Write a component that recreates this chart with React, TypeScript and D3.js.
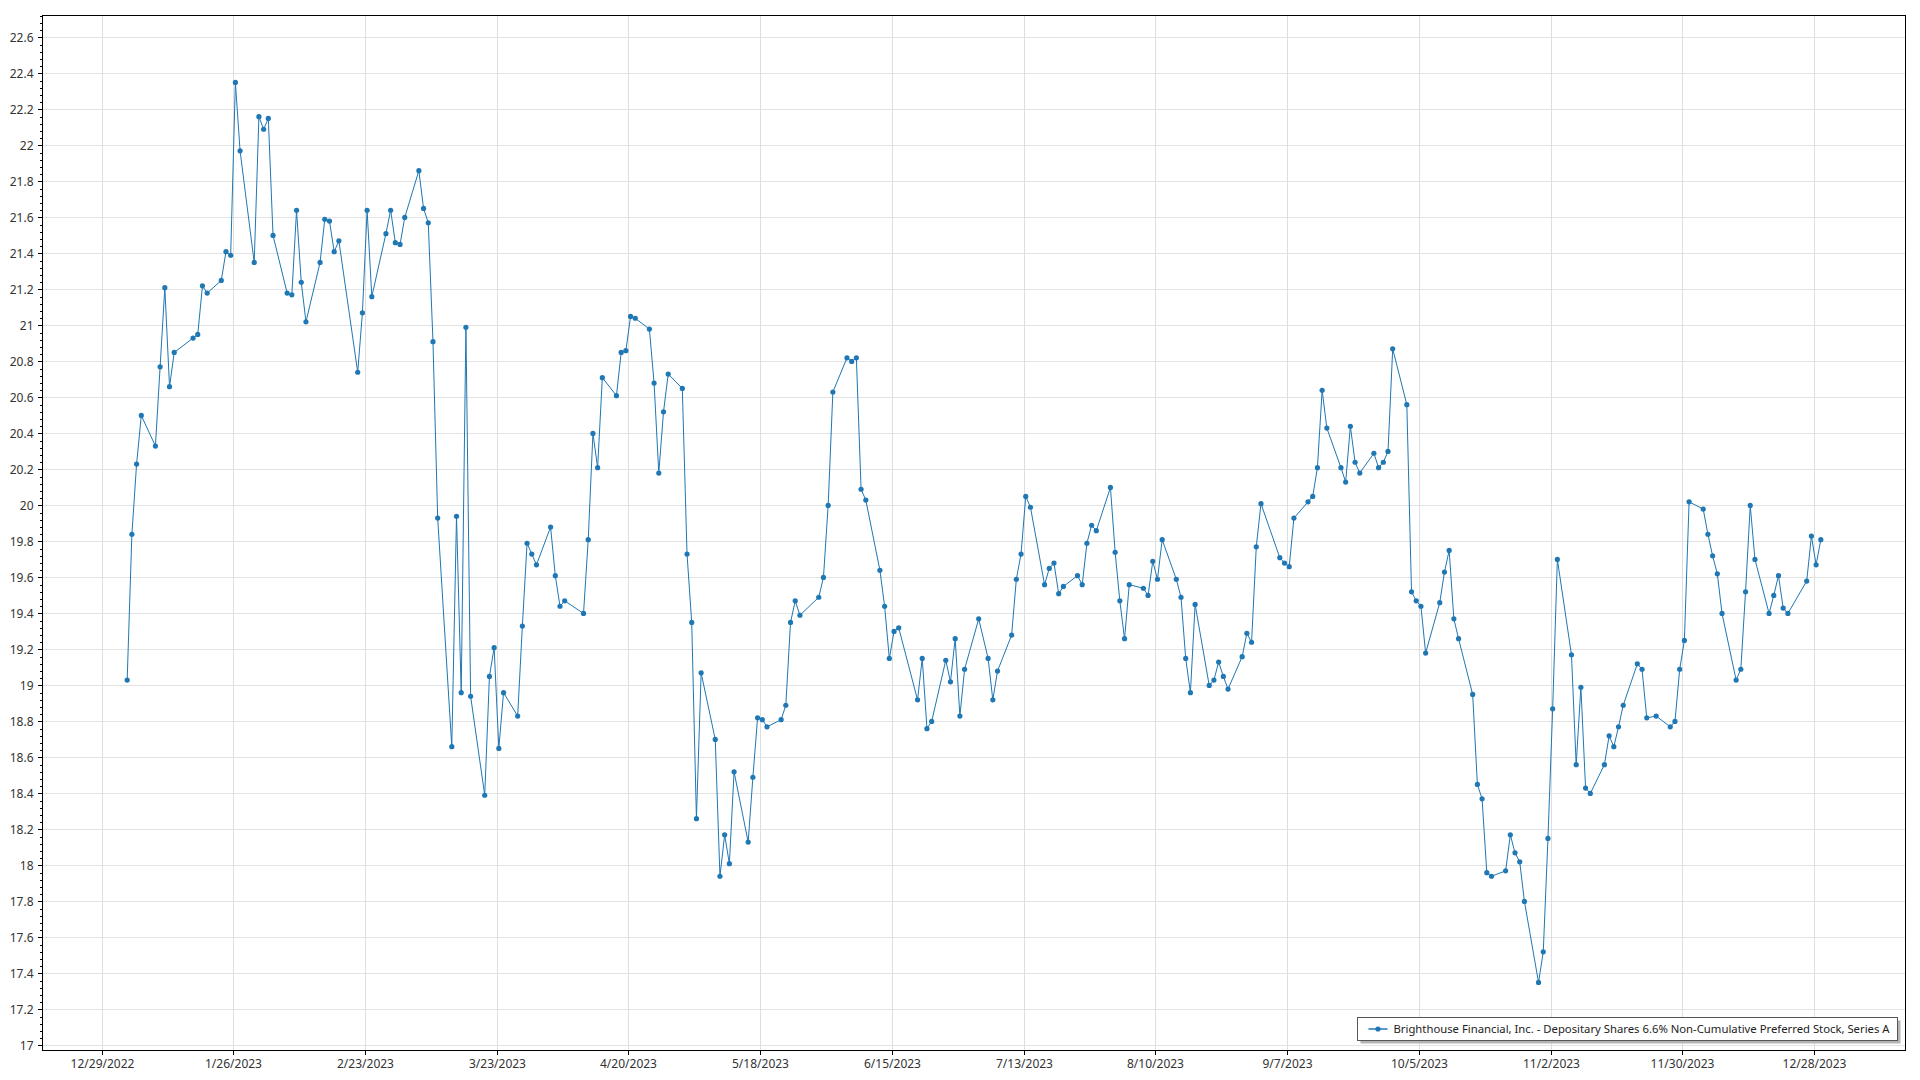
import { useEffect, useRef } from "react";
import * as d3 from "d3";

const SERIES_NAME =
  "Brighthouse Financial, Inc. - Depositary Shares 6.6% Non-Cumulative Preferred Stock, Series A";

// trading days of 2023
const TRADE_DATES = [
  "2023-01-03", "2023-01-04", "2023-01-05", "2023-01-06", "2023-01-09", "2023-01-10", "2023-01-11", "2023-01-12", "2023-01-13",
  "2023-01-17", "2023-01-18", "2023-01-19", "2023-01-20", "2023-01-23", "2023-01-24", "2023-01-25", "2023-01-26", "2023-01-27",
  "2023-01-30", "2023-01-31", "2023-02-01", "2023-02-02", "2023-02-03", "2023-02-06", "2023-02-07", "2023-02-08", "2023-02-09",
  "2023-02-10", "2023-02-13", "2023-02-14", "2023-02-15", "2023-02-16", "2023-02-17", "2023-02-21", "2023-02-22", "2023-02-23",
  "2023-02-24", "2023-02-27", "2023-02-28", "2023-03-01", "2023-03-02", "2023-03-03", "2023-03-06", "2023-03-07", "2023-03-08",
  "2023-03-09", "2023-03-10", "2023-03-13", "2023-03-14", "2023-03-15", "2023-03-16", "2023-03-17", "2023-03-20", "2023-03-21",
  "2023-03-22", "2023-03-23", "2023-03-24", "2023-03-27", "2023-03-28", "2023-03-29", "2023-03-30", "2023-03-31", "2023-04-03",
  "2023-04-04", "2023-04-05", "2023-04-06", "2023-04-10", "2023-04-11", "2023-04-12", "2023-04-13", "2023-04-14", "2023-04-17",
  "2023-04-18", "2023-04-19", "2023-04-20", "2023-04-21", "2023-04-24", "2023-04-25", "2023-04-26", "2023-04-27", "2023-04-28",
  "2023-05-01", "2023-05-02", "2023-05-03", "2023-05-04", "2023-05-05", "2023-05-08", "2023-05-09", "2023-05-10", "2023-05-11",
  "2023-05-12", "2023-05-15", "2023-05-16", "2023-05-17", "2023-05-18", "2023-05-19", "2023-05-22", "2023-05-23", "2023-05-24",
  "2023-05-25", "2023-05-26", "2023-05-30", "2023-05-31", "2023-06-01", "2023-06-02", "2023-06-05", "2023-06-06", "2023-06-07",
  "2023-06-08", "2023-06-09", "2023-06-12", "2023-06-13", "2023-06-14", "2023-06-15", "2023-06-16", "2023-06-20", "2023-06-21",
  "2023-06-22", "2023-06-23", "2023-06-26", "2023-06-27", "2023-06-28", "2023-06-29", "2023-06-30", "2023-07-03", "2023-07-05",
  "2023-07-06", "2023-07-07", "2023-07-10", "2023-07-11", "2023-07-12", "2023-07-13", "2023-07-14", "2023-07-17", "2023-07-18",
  "2023-07-19", "2023-07-20", "2023-07-21", "2023-07-24", "2023-07-25", "2023-07-26", "2023-07-27", "2023-07-28", "2023-07-31",
  "2023-08-01", "2023-08-02", "2023-08-03", "2023-08-04", "2023-08-07", "2023-08-08", "2023-08-09", "2023-08-10", "2023-08-11",
  "2023-08-14", "2023-08-15", "2023-08-16", "2023-08-17", "2023-08-18", "2023-08-21", "2023-08-22", "2023-08-23", "2023-08-24",
  "2023-08-25", "2023-08-28", "2023-08-29", "2023-08-30", "2023-08-31", "2023-09-01", "2023-09-05", "2023-09-06", "2023-09-07",
  "2023-09-08", "2023-09-11", "2023-09-12", "2023-09-13", "2023-09-14", "2023-09-15", "2023-09-18", "2023-09-19", "2023-09-20",
  "2023-09-21", "2023-09-22", "2023-09-25", "2023-09-26", "2023-09-27", "2023-09-28", "2023-09-29", "2023-10-02", "2023-10-03",
  "2023-10-04", "2023-10-05", "2023-10-06", "2023-10-09", "2023-10-10", "2023-10-11", "2023-10-12", "2023-10-13", "2023-10-16",
  "2023-10-17", "2023-10-18", "2023-10-19", "2023-10-20", "2023-10-23", "2023-10-24", "2023-10-25", "2023-10-26", "2023-10-27",
  "2023-10-30", "2023-10-31", "2023-11-01", "2023-11-02", "2023-11-03", "2023-11-06", "2023-11-07", "2023-11-08", "2023-11-09",
  "2023-11-10", "2023-11-13", "2023-11-14", "2023-11-15", "2023-11-16", "2023-11-17", "2023-11-20", "2023-11-21", "2023-11-22",
  "2023-11-24", "2023-11-27", "2023-11-28", "2023-11-29", "2023-11-30", "2023-12-01", "2023-12-04", "2023-12-05", "2023-12-06",
  "2023-12-07", "2023-12-08", "2023-12-11", "2023-12-12", "2023-12-13", "2023-12-14", "2023-12-15", "2023-12-18", "2023-12-19",
  "2023-12-20", "2023-12-21", "2023-12-22", "2023-12-26", "2023-12-27", "2023-12-28", "2023-12-29",
];

const CLOSE_PRICES = [
  19.03, 19.84, 20.23, 20.5, 20.33, 20.77, 21.21, 20.66, 20.85,
  20.93, 20.95, 21.22, 21.18, 21.25, 21.41, 21.39, 22.35, 21.97,
  21.35, 22.16, 22.09, 22.15, 21.5, 21.18, 21.17, 21.64, 21.24,
  21.02, 21.35, 21.59, 21.58, 21.41, 21.47, 20.74, 21.07, 21.64,
  21.16, 21.51, 21.64, 21.46, 21.45, 21.6, 21.86, 21.65, 21.57,
  20.91, 19.93, 18.66, 19.94, 18.96, 20.99, 18.94, 18.39, 19.05,
  19.21, 18.65, 18.96, 18.83, 19.33, 19.79, 19.73, 19.67, 19.88,
  19.61, 19.44, 19.47, 19.4, 19.81, 20.4, 20.21, 20.71, 20.61,
  20.85, 20.86, 21.05, 21.04, 20.98, 20.68, 20.18, 20.52, 20.73,
  20.65, 19.73, 19.35, 18.26, 19.07, 18.7, 17.94, 18.17, 18.01,
  18.52, 18.13, 18.49, 18.82, 18.81, 18.77, 18.81, 18.89, 19.35,
  19.47, 19.39, 19.49, 19.6, 20.0, 20.63, 20.82, 20.8, 20.82,
  20.09, 20.03, 19.64, 19.44, 19.15, 19.3, 19.32, 18.92, 19.15,
  18.76, 18.8, 19.14, 19.02, 19.26, 18.83, 19.09, 19.37, 19.15,
  18.92, 19.08, 19.28, 19.59, 19.73, 20.05, 19.99, 19.56, 19.65,
  19.68, 19.51, 19.55, 19.61, 19.56, 19.79, 19.89, 19.86, 20.1,
  19.74, 19.47, 19.26, 19.56, 19.54, 19.5, 19.69, 19.59, 19.81,
  19.59, 19.49, 19.15, 18.96, 19.45, 19.0, 19.03, 19.13, 19.05,
  18.98, 19.16, 19.29, 19.24, 19.77, 20.01, 19.71, 19.68, 19.66,
  19.93, 20.02, 20.05, 20.21, 20.64, 20.43, 20.21, 20.13, 20.44,
  20.24, 20.18, 20.29, 20.21, 20.24, 20.3, 20.87, 20.56, 19.52,
  19.47, 19.44, 19.18, 19.46, 19.63, 19.75, 19.37, 19.26, 18.95,
  18.45, 18.37, 17.96, 17.94, 17.97, 18.17, 18.07, 18.02, 17.8,
  17.35, 17.52, 18.15, 18.87, 19.7, 19.17, 18.56, 18.99, 18.43,
  18.4, 18.56, 18.72, 18.66, 18.77, 18.89, 19.12, 19.09, 18.82,
  18.83, 18.77, 18.8, 19.09, 19.25, 20.02, 19.98, 19.84, 19.72,
  19.62, 19.4, 19.03, 19.09, 19.52, 20.0, 19.7, 19.4, 19.5,
  19.61, 19.43, 19.4, 19.58, 19.83, 19.67, 19.81,
];

// x axis ticks every four weeks
const X_TICKS = [
  "2022-12-29", "2023-01-26", "2023-02-23", "2023-03-23", "2023-04-20", "2023-05-18", "2023-06-15",
  "2023-07-13", "2023-08-10", "2023-09-07", "2023-10-05", "2023-11-02", "2023-11-30", "2023-12-28",
];
const Y_DOMAIN = [16.972, 22.722];
const Y_TICK_STEP = 0.2;
const Y_MINOR_STEP = 0.04;

const LINE_COLOR = "#1f77b4";
const FONT = "'Segoe UI', 'Noto Sans', sans-serif";

export default function App() {
  const svgRef = useRef<SVGSVGElement>(null);

  useEffect(() => {
    if (!svgRef.current) return;
    const svg = d3.select(svgRef.current);
    svg.selectAll("*").remove();

    const width = 1920;
    const height = 1080;
    const margin = { top: 15.5, right: 14.5, bottom: 29.5, left: 42.5 };
    const x0 = margin.left;
    const x1 = width - margin.right;
    const y0 = margin.top;
    const y1 = height - margin.bottom;

    const parse = d3.timeParse("%Y-%m-%d");
    // points sit a little after midnight of their day
    const data = TRADE_DATES.map((d, i) => ({
      date: d3.timeHour.offset(parse(d)!, 11),
      value: CLOSE_PRICES[i],
    }));

    const ext = d3.extent(data, (d) => d.date) as [Date, Date];
    const pad = (+ext[1] - +ext[0]) * 0.05;
    const xScale = d3
      .scaleTime()
      .domain([new Date(+ext[0] - pad), new Date(+ext[1] + pad)])
      .range([x0, x1]);
    const yScale = d3.scaleLinear().domain(Y_DOMAIN).range([y1, y0]);

    const xTicks = X_TICKS.map((d) => parse(d)!);
    const yTicks = d3.range(17, Y_DOMAIN[1] + 1e-9, Y_TICK_STEP);
    const yMinor = d3
      .range(Math.ceil(Y_DOMAIN[0] / Y_MINOR_STEP) * Y_MINOR_STEP, Y_DOMAIN[1], Y_MINOR_STEP);

    svg.append("rect").attr("width", width).attr("height", height).attr("fill", "#fff");

    // grid
    const grid = svg.append("g").attr("shape-rendering", "crispEdges");
    yTicks.forEach((t) => {
      grid.append("line")
        .attr("x1", x0).attr("x2", x1)
        .attr("y1", Math.round(yScale(t)) + 0.5).attr("y2", Math.round(yScale(t)) + 0.5)
        .attr("stroke", "#e3e3e3").attr("stroke-width", 1);
    });
    xTicks.forEach((t) => {
      grid.append("line")
        .attr("x1", Math.round(xScale(t)) + 0.5).attr("x2", Math.round(xScale(t)) + 0.5)
        .attr("y1", y0).attr("y2", y1)
        .attr("stroke", "#dedede").attr("stroke-width", 1);
    });

    // frame
    svg.append("rect")
      .attr("x", x0).attr("y", y0)
      .attr("width", x1 - x0).attr("height", y1 - y0)
      .attr("fill", "none").attr("stroke", "#000").attr("stroke-width", 1)
      .attr("shape-rendering", "crispEdges");

    // y axis ticks and labels
    const yAxis = svg.append("g").attr("shape-rendering", "crispEdges");
    yMinor.forEach((t) => {
      const y = Math.round(yScale(t)) + 0.5;
      yAxis.append("line")
        .attr("x1", x0 - 3).attr("x2", x0).attr("y1", y).attr("y2", y)
        .attr("stroke", "#000");
    });
    yTicks.forEach((t) => {
      const y = Math.round(yScale(t)) + 0.5;
      yAxis.append("line")
        .attr("x1", x0 - 5).attr("x2", x0).attr("y1", y).attr("y2", y)
        .attr("stroke", "#000");
      svg.append("text")
        .attr("x", x0 - 9).attr("y", y)
        .attr("dy", "0.35em")
        .attr("text-anchor", "end")
        .attr("fill", "#333")
        .attr("font-size", "12px")
        .attr("font-family", FONT)
        .text(String(+t.toFixed(1)));
    });

    // x axis ticks and labels
    const fmt = (d: Date) => `${d.getMonth() + 1}/${d.getDate()}/${d.getFullYear()}`;
    xTicks.forEach((t) => {
      const x = Math.round(xScale(t)) + 0.5;
      svg.append("line")
        .attr("x1", x).attr("x2", x).attr("y1", y1).attr("y2", y1 + 4)
        .attr("stroke", "#000").attr("shape-rendering", "crispEdges");
      svg.append("text")
        .attr("x", x).attr("y", y1 + 13)
        .attr("dy", "0.35em")
        .attr("text-anchor", "middle")
        .attr("fill", "#333")
        .attr("font-size", "12px")
        .attr("font-family", FONT)
        .text(fmt(t));
    });

    // series
    const line = d3.line<{ date: Date; value: number }>()
      .x((d) => xScale(d.date))
      .y((d) => yScale(d.value));

    svg.append("path")
      .datum(data)
      .attr("d", line)
      .attr("fill", "none")
      .attr("stroke", LINE_COLOR)
      .attr("stroke-width", 1);

    svg.append("g")
      .selectAll("circle")
      .data(data)
      .join("circle")
      .attr("cx", (d) => xScale(d.date))
      .attr("cy", (d) => yScale(d.value))
      .attr("r", 2.6)
      .attr("fill", LINE_COLOR);

    // legend
    const lg = svg.append("g").attr("transform", `translate(1357.5, 1017.5)`);
    const lw = 540;
    const lh = 23;
    lg.append("rect")
      .attr("x", 3).attr("y", 3).attr("width", lw).attr("height", lh)
      .attr("fill", "#b4b4b4");
    lg.append("rect")
      .attr("width", lw).attr("height", lh)
      .attr("fill", "#fff").attr("stroke", "#555").attr("stroke-width", 1)
      .attr("shape-rendering", "crispEdges");
    lg.append("line")
      .attr("x1", 11).attr("x2", 30).attr("y1", lh / 2).attr("y2", lh / 2)
      .attr("stroke", LINE_COLOR).attr("stroke-width", 1.5);
    lg.append("circle")
      .attr("cx", 20.5).attr("cy", lh / 2).attr("r", 2.6)
      .attr("fill", LINE_COLOR);
    lg.append("text")
      .attr("x", 36).attr("y", lh / 2)
      .attr("dy", "0.35em")
      .attr("fill", "#222")
      .attr("font-size", "11.5px")
      .attr("font-family", FONT)
      .attr("textLength", 496)
      .attr("lengthAdjust", "spacingAndGlyphs")
      .text(SERIES_NAME);
  }, []);

  return (
    <svg
      ref={svgRef}
      width={1920}
      height={1080}
      style={{ position: "absolute", left: 0, top: 0, display: "block" }}
    />
  );
}
